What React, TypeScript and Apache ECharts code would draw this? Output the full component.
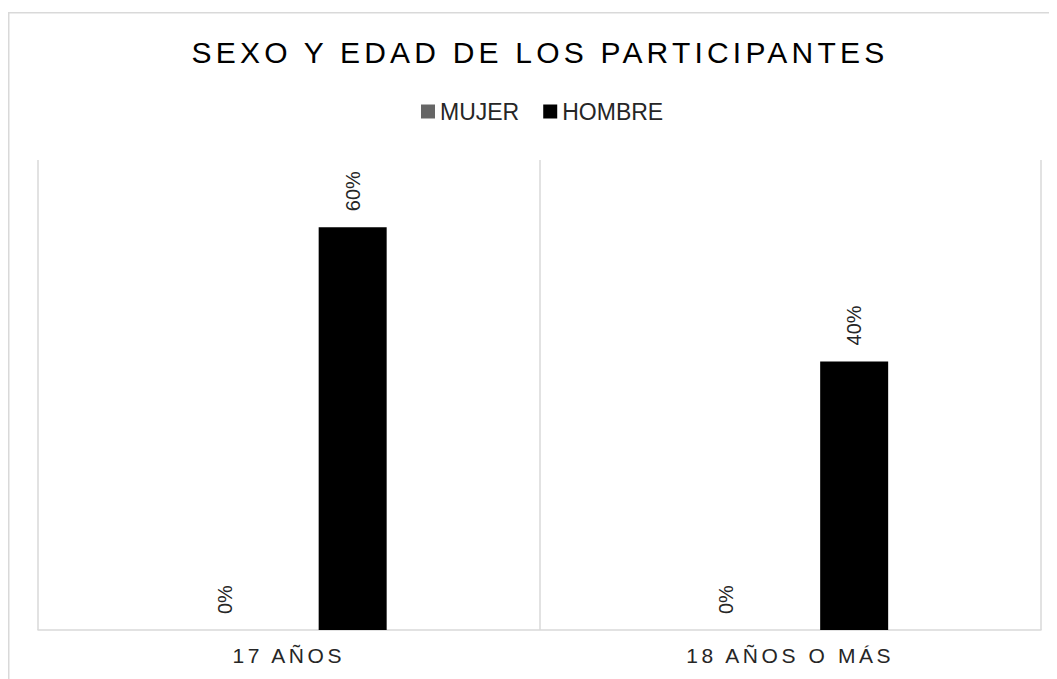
import React, { useEffect, useRef } from "react";
import * as echarts from "echarts";

const TITLE = "SEXO Y EDAD DE LOS PARTICIPANTES";
const CATEGORIES = ["17 AÑOS", "18 AÑOS O MÁS"];
const SERIES_NAMES = ["MUJER", "HOMBRE"];
const MUJER = [0, 0];
const HOMBRE = [0.6, 0.4];
const COLORS = ["#666666", "#000000"];
const FONT = "'Liberation Sans', Arial, sans-serif";

export default function App() {
  const ref = useRef<HTMLDivElement>(null);
  useEffect(() => {
    if (!ref.current) return;
    const chart = echarts.init(ref.current, undefined, { renderer: "svg" });
    const applySpacing = () => {
      const root = ref.current;
      if (!root) return;
      root.querySelectorAll("text").forEach((t) => {
        const s = t.textContent || "";
        if (s === TITLE) t.setAttribute("letter-spacing", "4.2");
        else if (CATEGORIES.includes(s)) t.setAttribute("letter-spacing", "3.6");
      });
    };
    chart.on("finished", applySpacing);
    const label = {
      show: true,
      position: "top" as const,
      rotate: 90,
      align: "left",
      verticalAlign: "middle",
      distance: 16,
      fontSize: 20,
      fontFamily: FONT,
      color: "#262626",
      formatter: (p: any) => Math.round(p.value * 100) + "%",
    };
    chart.setOption({
      animation: false,
      textStyle: { fontFamily: FONT },
      graphic: [
        {
          type: "rect",
          shape: { x: 0.75, y: 4.75, width: 1200, height: 1000 },
          style: { fill: "none", stroke: "#d9d9d9", lineWidth: 1.5 },
          silent: true,
        },
        {
          type: "text",
          x: 532,
          y: 44,
          style: {
            text: TITLE,
            fontSize: 30,
            fontFamily: FONT,
            fill: "#000000",
            align: "center",
            verticalAlign: "middle",
          },
        },
      ],
      legend: {
        data: SERIES_NAMES,
        left: 413,
        top: 92,
        padding: 0,
        icon: "rect",
        itemWidth: 14,
        itemHeight: 14,
        itemGap: 24,
        textStyle: { fontSize: 23, fontFamily: FONT, color: "#262626" },
        selectedMode: false,
      },
      grid: { left: 30, right: 16, top: 152, bottom: 49 },
      xAxis: {
        type: "category",
        data: CATEGORIES,
        axisLine: { lineStyle: { color: "#d9d9d9", width: 1.5 } },
        axisTick: { show: false },
        splitLine: { show: true, lineStyle: { color: "#d9d9d9", width: 1.5 } },
        axisLabel: { fontSize: 21, fontFamily: FONT, color: "#262626", margin: 15 },
      },
      yAxis: {
        type: "value",
        min: 0,
        max: 0.7,
        show: false,
        splitLine: { show: false },
      },
      series: [
        {
          name: SERIES_NAMES[0],
          type: "bar",
          data: MUJER,
          barWidth: 68,
          barGap: "88%",
          itemStyle: { color: COLORS[0] },
          label,
        },
        {
          name: SERIES_NAMES[1],
          type: "bar",
          data: HOMBRE,
          barWidth: 68,
          barGap: "88%",
          itemStyle: { color: COLORS[1] },
          label,
        },
      ],
    });
    return () => {
      chart.dispose();
    };
  }, []);
  return <div ref={ref} style={{ width: 1049, height: 671 }} />;
}
